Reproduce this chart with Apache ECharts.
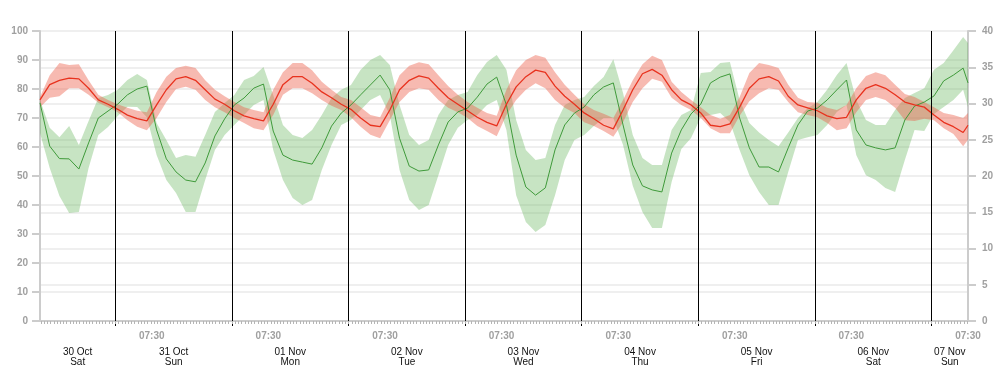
<!DOCTYPE html>
<html><head><meta charset="utf-8">
<script src="https://cdn.jsdelivr.net/npm/echarts@6/dist/echarts.min.js"></script>
<style>html,body{margin:0;padding:0;background:#fff}#chart{width:1007px;height:386px}</style>
</head><body><div id="chart"></div>
<script>
// hours since 2021-10-30 00:00
const startHour = 8.5, endHour = 199.5;
const dayLabels = ["30 Oct\nSat","31 Oct\nSun","01 Nov\nMon","02 Nov\nTue","03 Nov\nWed","04 Nov\nThu","05 Nov\nFri","06 Nov\nSat","07 Nov\nSun"];
const tickLabel = "07:30";
const times = Array.from({length: 96}, (_, k) => startHour + 2 * k).concat([endHour]);

const humidity = [75.2,60.3,56.0,55.9,52.4,61.4,70.0,72.4,
 74.8,78.0,80.0,81.0,65.9,55.9,51.4,48.6,48.0,54.5,63.8,69.7,
 74.5,76.9,80.3,81.7,65.5,57.2,55.5,54.8,54.1,59.7,67.2,71.7,
 74.5,78.0,81.4,84.8,79.7,63.0,53.4,51.7,52.1,60.7,68.6,72.1,
 73.4,77.2,81.7,84.1,74.5,57.2,46.2,43.4,45.9,59.0,67.6,71.7,
 73.8,78.0,80.7,82.1,67.6,53.8,46.6,45.2,44.5,57.9,65.9,71.4,
 74.8,82.1,84.1,85.2,70.0,59.7,53.1,53.1,51.4,59.7,67.6,72.4,
 73.4,76.2,79.7,83.1,65.9,60.7,59.7,59.0,59.7,69.3,74.1,75.5,
 77.6,82.8,84.8,87.2,82.1];
const humidityLow = [64.8,52.8,43.1,37.2,37.6,52.8,64.1,66.9,
 70.7,73.9,73.8,70.3,57.2,48.6,44.1,37.6,37.6,48.6,59.0,64.1,
 67.6,71.0,74.5,76.2,59.0,48.6,42.4,40.0,41.7,52.1,60.7,67.6,
 69.3,72.8,76.2,77.9,71.0,52.1,41.7,38.3,40.0,50.3,60.7,66.6,
 69.3,71.0,74.5,76.2,65.9,43.4,34.1,30.7,33.1,43.4,55.5,62.4,
 64.1,67.2,70.0,70.0,60.7,46.6,37.6,32.1,32.1,47.9,59.3,63.1,
 70.3,71.0,71.7,68.6,59.0,50.3,44.5,40.0,40.0,51.4,62.4,63.4,
 64.1,67.6,72.1,74.5,57.2,50.3,48.6,45.9,44.5,55.5,65.9,65.5,
 71.4,73.8,76.2,79.7,73.8];
const humidityHigh = [76.2,66.6,63.4,67.2,60.7,69.0,76.9,77.9,
 79.7,83.1,85.2,83.1,68.3,62.4,56.2,57.2,56.6,64.1,72.1,75.2,
 77.9,83.1,84.5,87.6,77.9,67.6,64.1,63.1,65.9,71.0,76.9,79.7,
 81.4,86.6,90.0,91.7,88.3,74.5,64.1,60.7,62.4,71.0,76.2,77.9,
 79.0,84.8,89.3,91.7,86.6,69.3,59.0,55.5,56.2,67.6,74.5,76.2,
 77.2,81.0,84.1,90.3,78.6,64.1,56.2,53.8,53.8,65.9,71.0,72.8,
 85.5,85.9,89.0,89.3,76.2,68.3,65.0,62.4,60.3,65.0,70.0,73.4,
 75.5,79.7,84.8,89.0,76.2,69.3,67.6,67.6,72.8,76.9,78.6,80.3,
 86.6,89.0,93.4,97.9,95.9];

const temperature = [30.5,32.6,33.2,33.5,33.4,32.1,30.5,29.9,
 29.2,28.4,27.9,27.6,29.8,31.9,33.4,33.7,33.2,31.9,30.6,29.9,
 29.0,28.3,27.9,27.6,29.9,32.6,33.7,33.7,32.8,31.6,30.8,29.9,
 29.2,28.0,27.0,26.8,29.1,31.9,33.2,33.8,33.5,32.1,30.8,29.9,
 29.0,28.1,27.4,26.9,29.9,32.3,33.7,34.6,34.3,32.4,31.0,29.9,
 28.7,27.9,27.0,26.5,29.1,31.9,34.1,34.7,33.9,31.9,30.5,29.8,
 28.7,27.0,26.8,27.2,29.5,32.1,33.4,33.7,33.1,31.0,29.8,29.4,
 29.0,28.3,27.9,28.1,30.5,32.1,32.6,32.1,31.2,30.2,29.8,29.5,
 28.4,27.4,26.8,26.0,27.0];
const temperatureLow = [29.5,30.8,31.0,32.1,32.1,31.2,30.1,29.5,
 28.8,27.7,26.8,26.3,28.0,30.2,32.0,32.3,31.9,30.5,29.5,28.8,
 28.0,27.3,26.6,26.3,28.4,31.2,32.1,32.1,31.4,30.5,29.7,29.1,
 28.1,26.8,25.7,25.2,27.7,30.2,31.6,32.1,31.9,30.5,29.4,28.8,
 28.0,26.9,26.2,25.5,28.4,30.5,31.9,32.8,32.1,30.5,29.4,28.7,
 27.4,26.9,26.2,25.4,27.4,30.2,32.1,33.4,33.0,30.8,29.8,29.1,
 28.0,26.6,25.9,25.9,28.3,30.3,31.4,32.1,31.9,30.2,28.8,28.4,
 28.1,27.3,26.3,26.6,28.8,30.5,30.9,30.5,29.4,27.7,27.6,27.9,
 27.7,26.6,25.8,24.1,25.0];
const temperatureHigh = [30.9,33.9,35.6,35.3,35.4,33.2,31.2,30.5,
 29.9,29.4,29.0,28.8,31.6,33.7,34.9,35.2,34.9,33.2,31.9,31.0,
 30.2,29.5,29.1,28.8,31.9,34.3,35.6,35.6,34.6,33.0,31.9,30.9,
 30.5,29.5,28.4,28.1,30.8,33.9,35.2,35.7,35.4,33.9,32.4,31.2,
 30.2,29.4,28.7,28.3,31.9,34.6,36.0,36.7,36.3,34.3,32.6,31.2,
 29.9,29.1,28.6,28.0,30.5,33.2,35.4,36.6,36.0,33.0,31.6,30.5,
 29.5,28.4,27.9,28.4,30.9,34.2,35.6,35.3,34.9,32.6,30.8,30.2,
 30.1,29.4,29.1,29.8,32.1,33.8,34.3,33.9,32.6,31.3,30.9,30.2,
 29.5,28.7,28.4,28.0,28.7];

// axis helpers
const midnights = [];
for (let h = 24; h < endHour; h += 24) midnights.push(h);
const labelHours = [];
for (let h = 31.5; h <= endHour; h += 24) labelHours.push(h);
const dayCenters = dayLabels.map((_, i) => (Math.max(startHour, 24 * i) + Math.min(endHour, 24 * (i + 1))) / 2);
const minorTicks = [];
for (let m = 0; m * 2 / 3 <= endHour; m++) { const t = m * 2 / 3; if (t >= startHour) minorTicks.push(t); }

const pair = (arr) => arr.map((v, i) => [times[i], v]);
const bandData = (lo, hi) => times.map((t, i) => [t, lo[i], hi[i]]);

// band polygon drawn through the series' own axes (api.coord)
function bandRenderer(lo, hi, color) {
  return function (params, api) {
    if (params.dataIndex !== 0) return null;
    const upper = times.map((t, i) => api.coord([t, hi[i]]));
    const lower = times.map((t, i) => api.coord([t, lo[i]])).reverse();
    return {
      type: 'polygon',
      shape: {points: upper.concat(lower)},
      style: {fill: color, stroke: null},
      silent: true
    };
  };
}

const FONT = "'Liberation Sans', Arial, sans-serif";
const gray = '#a0a0a0';

const chart = echarts.init(document.getElementById('chart'), null, {renderer: 'canvas'});
chart.setOption({
  animation: false,
  backgroundColor: '#fff',
  textStyle: {fontFamily: FONT},
  grid: {left: 40, right: 39, top: 31, bottom: 65, containLabel: false},
  xAxis: [{
    type: 'value', min: startHour, max: endHour, position: 'bottom',
    axisLine: {show: true, lineStyle: {color: '#cccccc', width: 2}},
    axisTick: {show: true, customValues: midnights, length: 5, lineStyle: {color: '#000', width: 1}},
    axisLabel: {show: true, customValues: labelHours, formatter: () => tickLabel,
      color: gray, fontWeight: 'bold', fontSize: 10, margin: 10, fontFamily: FONT},
    splitLine: {show: false}
  }, {
    type: 'value', min: startHour, max: endHour, position: 'bottom', offset: 0,
    axisLine: {show: false},
    axisTick: {show: true, customValues: minorTicks, length: 3, lineStyle: {color: '#b5b5b5', width: 1}},
    axisLabel: {show: true, customValues: dayCenters,
      formatter: (v) => dayLabels[Math.min(dayLabels.length - 1, Math.floor(v / 24))],
      color: '#111', fontSize: 10, lineHeight: 10, margin: 26, fontFamily: FONT},
    splitLine: {show: false}
  }],
  yAxis: [{
    type: 'value', min: 0, max: 100, interval: 10, position: 'left',
    axisLine: {show: true, lineStyle: {color: '#cccccc', width: 2}},
    axisTick: {show: true, length: 8, lineStyle: {color: '#cccccc', width: 2}},
    axisLabel: {color: gray, fontWeight: 'bold', fontSize: 10, margin: 12, fontFamily: FONT},
    splitLine: {show: true, lineStyle: {color: '#efefef', width: 2}}
  }, {
    type: 'value', min: 0, max: 40, interval: 5, position: 'right',
    axisLine: {show: true, lineStyle: {color: '#cccccc', width: 2}},
    axisTick: {show: true, length: 8, lineStyle: {color: '#cccccc', width: 2}},
    axisLabel: {color: gray, fontWeight: 'bold', fontSize: 10, margin: 14, fontFamily: FONT},
    splitLine: {show: true, lineStyle: {color: '#efefef', width: 2}}
  }],
  series: [
    {name: 'Humidity range', type: 'custom', xAxisIndex: 0, yAxisIndex: 0,
     data: bandData(humidityLow, humidityHigh), encode: {x: 0, y: [1, 2]},
     renderItem: bandRenderer(humidityLow, humidityHigh, 'rgba(100,180,90,0.36)'), silent: true, z: 1},
    {name: 'Temperature range', type: 'custom', xAxisIndex: 0, yAxisIndex: 1,
     data: bandData(temperatureLow, temperatureHigh), encode: {x: 0, y: [1, 2]},
     renderItem: bandRenderer(temperatureLow, temperatureHigh, 'rgba(235,90,70,0.42)'), silent: true, z: 2},
    {name: 'Humidity', type: 'line', xAxisIndex: 0, yAxisIndex: 0, data: pair(humidity),
     symbol: 'none', lineStyle: {color: '#3f9a3a', width: 1}, z: 3},
    {name: 'Temperature', type: 'line', xAxisIndex: 0, yAxisIndex: 1, data: pair(temperature),
     symbol: 'none', lineStyle: {color: '#e8321e', width: 1.3}, z: 4,
     markLine: {silent: true, symbol: ['none', 'none'], label: {show: false},
       lineStyle: {color: '#000', width: 1, type: 'solid'},
       emphasis: {disabled: true},
       data: midnights.map(h => ({xAxis: h}))}}
  ]
});
</script></body></html>
